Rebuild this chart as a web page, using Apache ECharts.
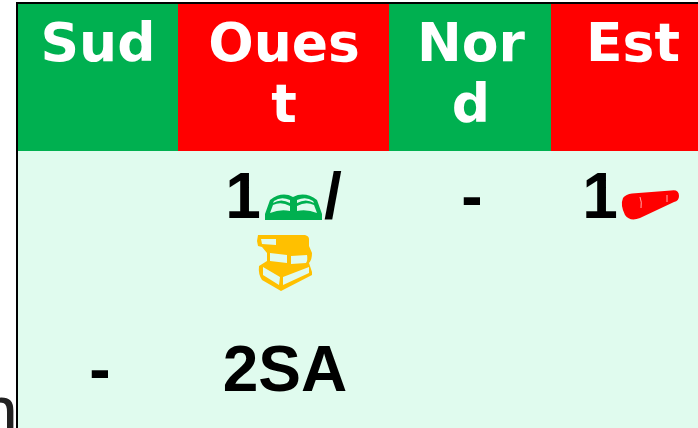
<!DOCTYPE html>
<html><head><meta charset="utf-8">
<style>html,body{margin:0;padding:0;background:#fff}#c{width:698px;height:428px}</style>
<script src="https://cdn.jsdelivr.net/npm/echarts@6/dist/echarts.min.js"></script></head>
<body><div id="c"></div>
<script>
const headers = ['Sud', 'Oues\nt', 'Nor\nd', 'Est'];
const row1 = ['', '1', '-', '1'];
const row2 = ['-', '2SA', '', ''];
const slash = '/';
const GREEN='#00B050', RED='#FF0000', BODY='#E0FBEE', GOLD='#FFC000';
const colX=[18,178,389,551,698], headTop=4, headBottom=151;
const headX=[98,284,471,633];
const headFont='bold 53.5px "DejaVu Sans"', bodyFont='bold 64px "Liberation Sans"';
const g=[];
g.push({type:'text',z:1,style:{text:'n',x:-22,y:380,font:'72px "Liberation Sans"',fill:'#222'}});
g.push({type:'rect',z:2,shape:{x:18,y:151,width:680,height:277},style:{fill:BODY}});
g.push({type:'rect',z:3,shape:{x:16,y:2,width:682,height:2},style:{fill:'#000'}});
g.push({type:'rect',z:3,shape:{x:16,y:2,width:2,height:426},style:{fill:'#000'}});
headers.forEach((h,i)=>{
  g.push({type:'rect',z:2,shape:{x:colX[i],y:headTop,width:colX[i+1]-colX[i],height:headBottom-headTop},style:{fill:i%2?RED:GREEN}});
  g.push({type:'text',z:4,style:{text:h,x:headX[i],y:17,align:'center',verticalAlign:'top',font:headFont,fill:'#fff',lineHeight:61}});
});
const rowX=[98,243,472,600];
row1.forEach((t,i)=>{ if(t) g.push({type:'text',z:4,style:{text:t,x:rowX[i],y:200,align:'center',verticalAlign:'middle',font:bodyFont,fill:'#000'}}); });
const row2X=[100,285];
row2.forEach((t,i)=>{ if(t) g.push({type:'text',z:4,style:{text:t,x:row2X[i],y:373,align:'center',verticalAlign:'middle',font:bodyFont,fill:'#000'}}); });
g.push({type:'text',z:4,style:{text:slash,x:333,y:200,align:'center',verticalAlign:'middle',font:bodyFont,fill:'#000'}});
const ICONS=[
 {d:'M265 214 L270 200 Q282 191 293 197 Q305 191 317 200 L322 214 L322 220 L265 220 Z',fill:GREEN},
 {d:'M270 213 L273 205 Q281 201 290 206 L290 211 Q280 209 270 213 Z M317 213 L314 205 Q306 201 297 206 L297 211 Q307 209 317 213 Z M274 201 Q281 196 290 200 L290 203 Q281 198 273 203 Z M313 201 Q306 196 297 200 L297 203 Q306 198 314 203 Z',fill:BODY},
 {d:'M284 220 Q293 208 303 220 Z',fill:GREEN},
 {d:'M258 235 L305 235 Q309 236 309 239 L309 246 L312 253 Q312 260 309 263 L312 272 L312 275 L281 291 L262 280 Q258 274 259 266 L267 261 L267 253 L262 247 L258 246 L257 241 Z',fill:GOLD},
 {d:'M261 239 L276 239 L276 245 L262 244 Z M270 253 L287 255 L287 263 L270 261 Z M291 256 L307 255 Q308 260 306 263 L291 264 Z M263 267 L280 277 L279 285 L263 275 Z M283 277 L309 267 L309 273 L283 285 Z',fill:BODY},
 {d:'M632 193.5 L671 190.5 Q679 189 679 196 Q679 201 674 202 L640 218 Q630 222 625 215 Q620 205 623 198 Q626 194 632 193.5 Z',fill:RED},
 {d:'M640 197 Q642 202 641 208 M667 195 L667 202',fill:'none',stroke:'#FFD9D9',lw:0.8}
];
const chart=echarts.init(document.getElementById('c'),null,{renderer:'canvas'});
chart.setOption({animation:false,backgroundColor:'#fff',graphic:{elements:g},
 series:[{type:'custom',coordinateSystem:'none',data:[0],silent:true,z:50,clip:false,
  renderItem:()=>({type:'group',children:ICONS.map(ic=>({type:'path',shape:{pathData:ic.d},style:{fill:ic.fill,stroke:ic.stroke||null,lineWidth:ic.lw||0}}))})
 }]});
</script></body></html>
